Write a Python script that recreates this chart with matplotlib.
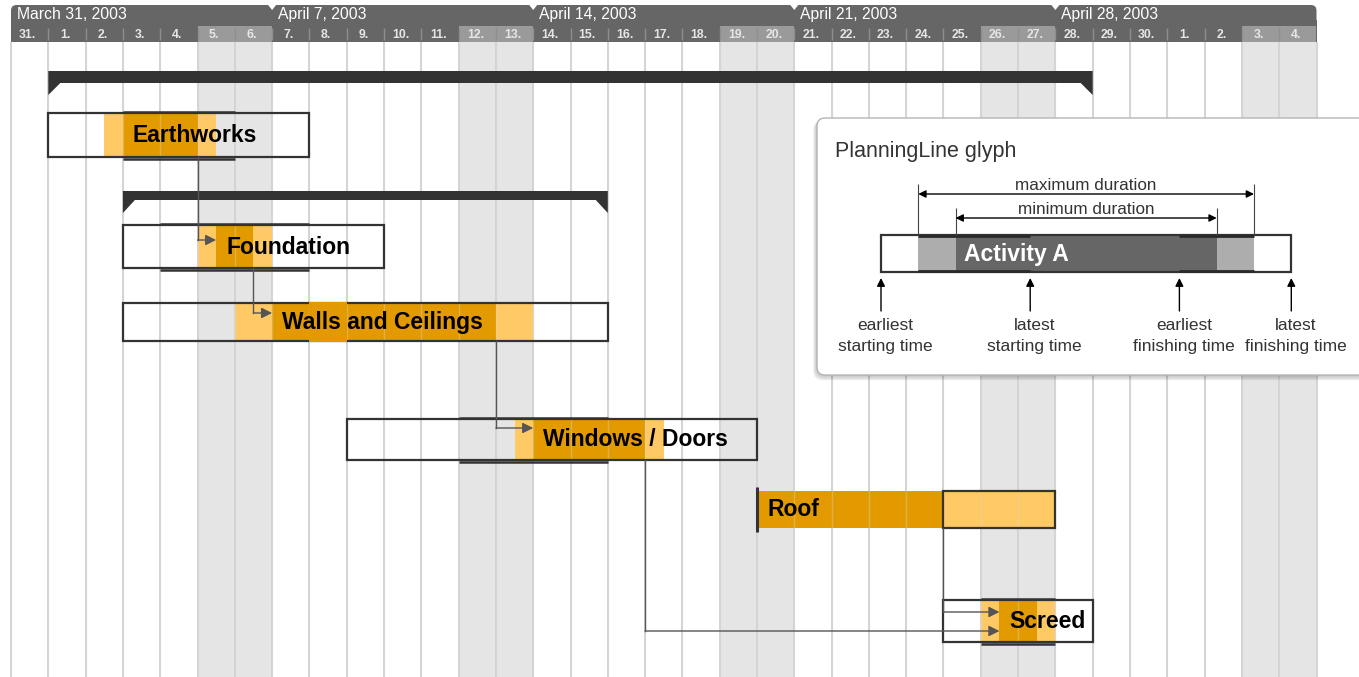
import matplotlib
matplotlib.use('Agg')
import matplotlib.pyplot as plt
from matplotlib.patches import Rectangle, Polygon, FancyBboxPatch

plt.rcParams['font.family'] = ['Liberation Sans', 'DejaVu Sans']

# ---------------- data ----------------
day_labels = ['31.', '1.', '2.', '3.', '4.', '5.', '6.', '7.', '8.', '9.', '10.', '11.',
              '12.', '13.', '14.', '15.', '16.', '17.', '18.', '19.', '20.', '21.', '22.',
              '23.', '24.', '25.', '26.', '27.', '28.', '29.', '30.', '1.', '2.', '3.', '4.']
week_labels = ['March 31, 2003', 'April 7, 2003', 'April 14, 2003', 'April 21, 2003', 'April 28, 2003']
week_starts = [0, 7, 14, 21, 28]
weekend_days = [5, 6, 12, 13, 19, 20, 26, 27, 33, 34]

task_names = ['Earthworks', 'Foundation', 'Walls and Ceilings', 'Windows / Doors', 'Roof', 'Screed']
box_start = [1, 3, 3, 9, 25, 25]
box_end = [8, 10, 16, 20, 28, 29]
bracket_start = [3, 4, None, 12, None, 26]
bracket_end = [6, 8, None, 16, None, 28]
early_start = [2.5, 5, 6, 13.5, 20, 26]
late_start = [3, 5.5, 7, 14, 20, 26.5]
early_finish = [5, 6.5, 13, 17, 25, 27.5]
late_finish = [5.5, 7, 14, 17.5, 28, 28]
fixed_start = [None, None, None, None, 20, None]

summary_start = [1, 3]
summary_end = [29, 16]

dep_src = [0, 1, 2, 3, 4]
dep_from = [5, 6.5, 13, 17, 25]
dep_to = [5.5, 7, 14, 26.5, 26.5]

legend_box = (0, 11)
legend_max = (1, 10)
legend_min = (2, 9)
legend_marks = [0, 4, 8, 11]
legend_top = ['earliest', 'latest', 'earliest', 'latest']
legend_bottom = ['starting time', 'starting time', 'finishing time', 'finishing time']

# ---------------- layout ----------------
W, H = 1359, 677
OX, PX = 11, 37.3           # pixel of day 0, pixels per day
def px2d(p):
    return (p - OX) / PX

row_top = [113, 225, 303, 419, 491, 600]
row_bot = [157, 268, 341, 460, 528, 642]
dep_y = [240, 313, 428, 631, 612]
summary_y = [(71, 83, 95), (191, 200, 213)]

DARK = '#e29a00'
LIGHT = '#ffc966'
INK = '#333333'

fig = plt.figure(figsize=(W / 100, H / 100), dpi=100)
ax = fig.add_axes([0, 0, 1, 1])
ax.set_xlim(px2d(0), px2d(W))
ax.set_ylim(H, 0)
ax.axis('off')

ndays = len(day_labels)

# background columns
for d in weekend_days:
    ax.add_patch(Rectangle((d, 42), 1, H - 42, fc='#e5e5e5', ec='none', zorder=0))
ax.vlines(range(0, ndays + 1), 42, H, color='#d3d3d3', lw=1.4, zorder=1)

# header
ax.add_patch(FancyBboxPatch((0, 5), ndays, 37, boxstyle='round,pad=0,rounding_size=0.15',
                            mutation_aspect=PX, fc='#666666', ec='none', zorder=3))
ax.add_patch(Rectangle((0, 20), ndays, 22, fc='#666666', ec='none', zorder=3))
for d in weekend_days:
    ax.add_patch(Rectangle((d, 26), 1, 16, fc='#9a9a9a', ec='none', zorder=3.1))
ax.vlines(range(1, ndays), 28, 40, color='#8e8e8e', lw=1.0, zorder=3.2)
for d, lab in enumerate(day_labels):
    ax.text(d + 0.45, 34.5, lab, color='#e6e6e6', fontsize=8.8, fontweight='bold',
            ha='center', va='center', zorder=3.3)
for ws, lab in zip(week_starts, week_labels):
    ax.text(ws + 6 / PX, 14.5, lab, color='white', fontsize=11.3, ha='left', va='center', zorder=3.3)
    if ws > 0:
        ax.add_patch(Polygon([(ws - 4 / PX, 5), (ws + 4 / PX, 5), (ws, 10)], closed=True,
                             fc='white', ec='none', zorder=3.3))

# summary bars
notch = 12 / PX
for s, e, (yt, yb, ytip) in zip(summary_start, summary_end, summary_y):
    ax.add_patch(Polygon([(s, yt), (e, yt), (e, ytip), (e - notch, yb), (s + notch, yb), (s, ytip)],
                         closed=True, fc=INK, ec='none', zorder=4))

# task fills
for i in range(len(task_names)):
    t, b = row_top[i], row_bot[i]
    ax.add_patch(Rectangle((early_start[i], t), late_start[i] - early_start[i], b - t,
                           fc=LIGHT, ec='none', zorder=2))
    ax.add_patch(Rectangle((late_start[i], t), early_finish[i] - late_start[i], b - t,
                           fc=DARK, ec='none', zorder=2))
    ax.add_patch(Rectangle((early_finish[i], t), late_finish[i] - early_finish[i], b - t,
                           fc=LIGHT, ec='none', zorder=2))

# grid overlay on fills
ax.vlines(range(0, ndays + 1), 42, H, color='#d8d8d8', lw=1.0, alpha=0.35, zorder=2.5)

# boxes and brackets
for i in range(len(task_names)):
    t, b = row_top[i], row_bot[i]
    ax.add_patch(Rectangle((box_start[i], t), box_end[i] - box_start[i], b - t,
                           fill=False, ec=INK, lw=1.6, zorder=4))
    if bracket_start[i] is not None:
        ax.hlines([t - 1.5, b + 1.5], bracket_start[i], bracket_end[i], color=INK, lw=1.8, zorder=4)
    if fixed_start[i] is not None:
        ax.vlines(fixed_start[i], t - 4, b + 4, color=INK, lw=2.2, zorder=4)

# walls: overlapping segment
ax.add_patch(Rectangle((8, row_top[2] - 1.0), 1, row_bot[2] - row_top[2] + 2,
                       fc=DARK, ec='none', zorder=4.2))

# labels
for i, name in enumerate(task_names):
    ax.text(late_start[i] + 0.27, (row_top[i] + row_bot[i]) / 2 + 0.5, name, fontsize=16.5,
            fontweight='bold', color='black', ha='left', va='center', zorder=6)

# dependencies
for src, xf, xt, yl in zip(dep_src, dep_from, dep_to, dep_y):
    ax.plot([xf, xf], [row_bot[src], yl], color='#555555', lw=1.0, zorder=5)
    ax.annotate('', xy=(xt, yl), xytext=(xf, yl),
                arrowprops=dict(arrowstyle='-|>', color='#555555', lw=1.0,
                                mutation_scale=16, shrinkA=0, shrinkB=0), zorder=5)

# ---------------- inset legend ----------------
ix0, iy0, iy1 = px2d(817), 118, 375
iw = px2d(1390) - ix0
for k, a in enumerate([0.05, 0.05, 0.06, 0.07]):
    off = k + 1
    ax.add_patch(FancyBboxPatch((ix0 - off * 0.9 / PX, iy0 + off * 0.7), iw, iy1 - iy0 + off * 0.6,
                                boxstyle='round,pad=0,rounding_size=%f' % (9 / PX),
                                mutation_aspect=PX, fc='black', ec='none', alpha=a, zorder=9))
ax.add_patch(FancyBboxPatch((ix0, iy0), iw, iy1 - iy0,
                            boxstyle='round,pad=0,rounding_size=%f' % (8 / PX),
                            mutation_aspect=PX, fc='white', ec='#b5b5b5', lw=1.0, zorder=10))
ax.text(px2d(835), 152, 'PlanningLine glyph', fontsize=15.5, color=INK,
        ha='left', va='center', zorder=11)

G0 = px2d(881)
gt, gb = 235, 272
ax.add_patch(Rectangle((G0 + legend_max[0], gt), legend_min[0] - legend_max[0], gb - gt,
                       fc='#adadad', ec='none', zorder=11))
ax.add_patch(Rectangle((G0 + legend_min[0], gt), legend_min[1] - legend_min[0], gb - gt,
                       fc='#666666', ec='none', zorder=11))
ax.add_patch(Rectangle((G0 + legend_min[1], gt), legend_max[1] - legend_min[1], gb - gt,
                       fc='#adadad', ec='none', zorder=11))
ax.add_patch(Rectangle((G0 + legend_box[0], gt), legend_box[1] - legend_box[0], gb - gt,
                       fill=False, ec=INK, lw=1.6, zorder=12))
ax.hlines([gt + 1, gb - 1], G0 + legend_max[0], G0 + legend_marks[1], color='#2a2a2a', lw=2.0, zorder=12)
ax.hlines([gt + 1, gb - 1], G0 + legend_marks[2], G0 + legend_max[1], color='#2a2a2a', lw=2.0, zorder=12)
ax.text(G0 + legend_min[0] + 0.22, (gt + gb) / 2 + 0.5, 'Activity A', fontsize=16.5,
        fontweight='bold', color='white', ha='left', va='center', zorder=13)

# duration arrows
for (a, b), ya, ytick, lab in [(legend_max, 194, 184, 'maximum duration'),
                               (legend_min, 218, 208, 'minimum duration')]:
    ax.vlines([G0 + a, G0 + b], ytick, gt, color='#444444', lw=0.8, zorder=12)
    ax.annotate('', xy=(G0 + b, ya), xytext=(G0 + a, ya),
                arrowprops=dict(arrowstyle='<|-|>', color='black', lw=1.0,
                                mutation_scale=11, shrinkA=0, shrinkB=0), zorder=12)
    ax.text(G0 + (a + b) / 2, ya - 8.5, lab, fontsize=12.3, color=INK,
            ha='center', va='center', zorder=12)

# time markers
for m, t1, t2 in zip(legend_marks, legend_top, legend_bottom):
    ax.annotate('', xy=(G0 + m, 278), xytext=(G0 + m, 311),
                arrowprops=dict(arrowstyle='-|>', color='black', lw=1.0,
                                mutation_scale=12, shrinkA=0, shrinkB=0), zorder=12)
    ax.text(G0 + m + 0.12, 325, t1, fontsize=12.5, color=INK, ha='center', va='center', zorder=12)
    ax.text(G0 + m + 0.12, 347, t2, fontsize=12.5, color=INK, ha='center', va='center', zorder=12)

fig.savefig('out.png', dpi=100)
